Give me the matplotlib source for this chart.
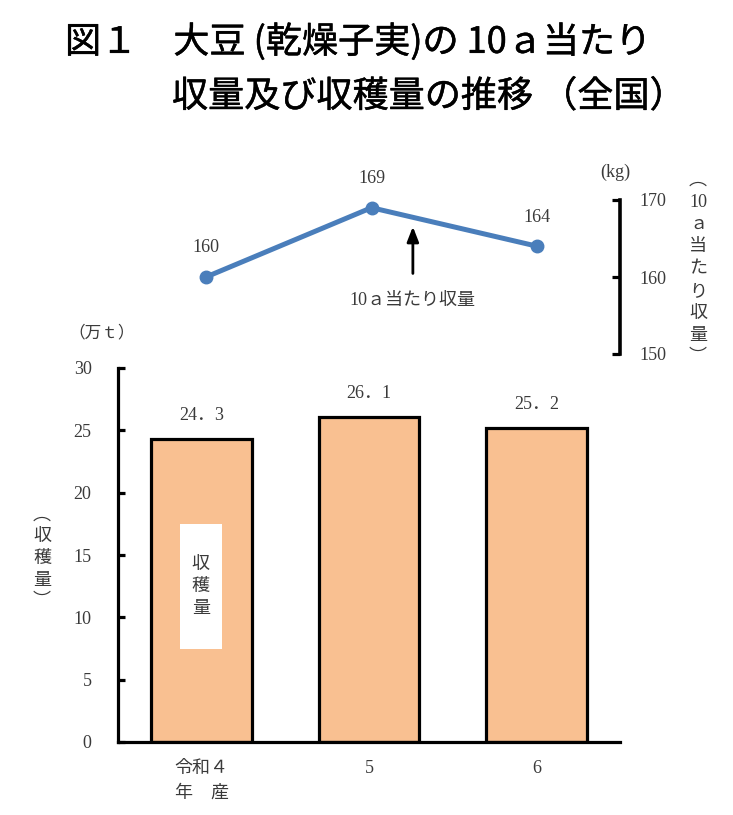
import matplotlib
matplotlib.use('Agg')
import matplotlib.pyplot as plt
import matplotlib.patheffects as pe
from matplotlib.patches import Rectangle

# data
years = ['令和４\n年　産', '5', '6']
harvest = [24.3, 26.1, 25.2]          # 万t
harvest_labels = ['24．3', '26．1', '25．2']
yield_10a = [160, 169, 164]           # kg

W, H = 733, 815
TXT = '#3a3a3a'
SERIF = ['Liberation Serif', 'Noto Sans CJK JP']
CJK = ['Noto Sans CJK JP', 'DejaVu Sans']
plt.rcParams['font.family'] = CJK


def px(x, y):
    return x / W, 1 - y / H


fig = plt.figure(figsize=(W / 100, H / 100), dpi=100)

# title (slight stroke to get a medium weight)
thick = [pe.withStroke(linewidth=0.35, foreground='black')]
fig.text(*px(65, 42), '図１　大豆 (乾燥子実)の 10ａ当たり', fontsize=26,
         ha='left', va='center', color='black', path_effects=thick)
fig.text(*px(172, 97), '収量及び収穫量の推移 （全国）', fontsize=26,
         ha='left', va='center', color='black', path_effects=thick)

# bar chart
ax = fig.add_axes([118 / W, 1 - 742 / H, 502 / W, 374 / H])
xs = range(len(years))
ax.bar(xs, harvest, width=0.6, color='#F9C091', edgecolor='black', linewidth=2.3)
for x, v, lab in zip(xs, harvest, harvest_labels):
    ax.annotate(lab, (x, v), xytext=(0, 17), textcoords='offset points',
                ha='center', va='center', fontsize=13, color=TXT, family=SERIF)
ax.set_xlim(-0.5, 2.5)
ax.set_ylim(0, 30)
ax.set_yticks(range(0, 31, 5))
ax.set_xticks(list(xs))
ax.set_xticklabels(years)
for t in ax.get_xticklabels():
    t.set_family(SERIF)
    t.set_linespacing(1.6)
for t in ax.get_yticklabels():
    t.set_family(SERIF)
ax.tick_params(axis='y', direction='in', length=5, width=2.3, pad=19,
               labelsize=13, labelcolor=TXT)
ax.tick_params(axis='x', length=0, pad=13, labelsize=13, labelcolor=TXT)
for s in ['top', 'right']:
    ax.spines[s].set_visible(False)
for s in ['left', 'bottom']:
    ax.spines[s].set_linewidth(2.3)

# white box with label inside first bar
ax.add_patch(Rectangle((-0.13, 7.5), 0.25, 10.0, facecolor='white',
                       edgecolor='none', zorder=3))
ax.text(-0.005, 12.5, '収\n穫\n量', ha='center', va='center', fontsize=13,
        color=TXT, linespacing=1.3, zorder=4)

fig.text(*px(102, 333), '（万ｔ）', ha='center', va='center', fontsize=12, color=TXT)
fig.text(*px(42, 558), '︵\n収\n穫\n量\n︶', ha='center', va='center',
         fontsize=13, color=TXT, linespacing=1.25)

# line chart
lx = fig.add_axes([123.25 / W, 1 - 354 / H, 496.5 / W, 154 / H])
lx.plot(list(xs), yield_10a, color='#4A7EBB', linewidth=3.6, marker='o',
        markersize=9, solid_capstyle='round')
for x, v in zip(xs, yield_10a):
    lx.annotate(str(v), (x, v), xytext=(0, 21), textcoords='offset points',
                ha='center', va='center', fontsize=13, color=TXT, family=SERIF)
lx.set_xlim(-0.5, 2.5)
lx.set_ylim(150, 170)
lx.set_yticks([150, 160, 170])
lx.set_xticks([])
lx.yaxis.tick_right()
for t in lx.get_yticklabels():
    t.set_family(SERIF)
lx.tick_params(axis='y', direction='in', length=6, width=2.3, pad=14,
               labelsize=13, labelcolor=TXT)
for s in ['top', 'left', 'bottom']:
    lx.spines[s].set_visible(False)
lx.spines['right'].set_linewidth(2.6)
lx.patch.set_alpha(0)

lx.annotate('', xy=(1.25, 166.9), xytext=(1.25, 160.1),
            arrowprops=dict(arrowstyle='-|>,head_length=0.9,head_width=0.35',
                            color='black', lw=2.0))
lx.text(1.25, 157.0, '10ａ当たり収量', ha='center', va='center', fontsize=13,
        color=TXT, family=SERIF)

fig.text(*px(615, 172), '(kg)', ha='center', va='center', fontsize=13,
         color=TXT, family=SERIF)
fig.text(*px(698, 269), '︵\n10\nａ\n当\nた\nり\n収\n量\n︶', ha='center',
         va='center', fontsize=13, color=TXT, linespacing=1.4, family=SERIF)

fig.savefig('out.png', dpi=100)
